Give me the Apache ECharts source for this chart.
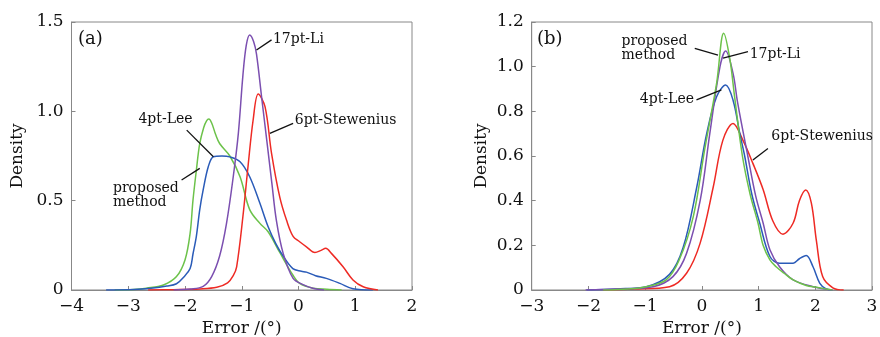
<!DOCTYPE html>
<html><head><meta charset="utf-8">
<script src="https://cdn.jsdelivr.net/npm/echarts@6/dist/echarts.min.js"></script>
<style>html,body{margin:0;padding:0;background:#fff}#c{width:880px;height:337px}</style>
</head><body><div id="c"></div>
<script>
// ---- Panel (a) data: [error, density]
const aProposed = [[-3.24,0],[-2.9,0.003],[-2.68,0.01],[-2.38,0.028],[-2.15,0.075],[-2.0,0.168],[-1.91,0.317],[-1.86,0.50],[-1.80,0.67],[-1.74,0.82],[-1.67,0.91],[-1.62,0.947],[-1.58,0.957],[-1.53,0.935],[-1.46,0.87],[-1.39,0.82],[-1.21,0.75],[-1.03,0.634],[-0.86,0.45],[-0.68,0.373],[-0.535,0.326],[-0.33,0.21],[-0.10,0.084],[0.02,0.037],[0.26,0.01],[0.5,0.004],[0.76,0]];
const aLee = [[-3.39,0],[-2.9,0.003],[-2.6,0.01],[-2.32,0.022],[-2.15,0.035],[-2.03,0.07],[-1.91,0.12],[-1.86,0.2],[-1.80,0.3],[-1.74,0.45],[-1.68,0.56],[-1.59,0.69],[-1.50,0.746],[-1.35,0.75],[-1.21,0.745],[-1.03,0.718],[-0.86,0.634],[-0.68,0.485],[-0.535,0.354],[-0.40,0.26],[-0.27,0.19],[-0.1,0.12],[0.05,0.105],[0.14,0.10],[0.3,0.08],[0.49,0.065],[0.73,0.037],[0.96,0.007],[1.31,0]];
const aLi = [[-2.2,0],[-1.9,0.005],[-1.68,0.02],[-1.53,0.075],[-1.39,0.19],[-1.27,0.37],[-1.15,0.634],[-1.06,0.877],[-0.98,1.2],[-0.92,1.37],[-0.86,1.427],[-0.79,1.39],[-0.74,1.32],[-0.65,1.08],[-0.56,0.84],[-0.47,0.6],[-0.39,0.39],[-0.27,0.205],[-0.095,0.065],[0.08,0.03],[0.25,0.01],[0.45,0]];
const aStew = [[-2.65,0],[-2.2,0.002],[-1.74,0.006],[-1.44,0.015],[-1.25,0.04],[-1.15,0.08],[-1.09,0.13],[-0.98,0.41],[-0.89,0.69],[-0.80,0.95],[-0.71,1.097],[-0.59,1.026],[-0.475,0.765],[-0.33,0.52],[-0.21,0.39],[-0.095,0.30],[0.02,0.27],[0.14,0.242],[0.29,0.21],[0.40,0.222],[0.48,0.233],[0.58,0.205],[0.785,0.13],[0.96,0.056],[1.14,0.018],[1.4,0]];
// ---- Panel (b) data
const bProposed = [[-1.74,0],[-1.3,0.005],[-0.98,0.015],[-0.63,0.045],[-0.40,0.134],[-0.15,0.33],[0.05,0.63],[0.26,0.925],[0.385,1.15],[0.49,1.04],[0.58,0.86],[0.715,0.6],[0.85,0.43],[0.99,0.30],[1.08,0.2],[1.2,0.135],[1.31,0.104],[1.45,0.075],[1.61,0.045],[1.84,0.02],[2.02,0.012],[2.3,0]];
const bLee = [[-2.03,0],[-1.5,0.005],[-0.98,0.015],[-0.57,0.07],[-0.33,0.19],[-0.09,0.46],[0.085,0.70],[0.26,0.865],[0.42,0.918],[0.55,0.85],[0.67,0.70],[0.755,0.6],[0.88,0.43],[1.02,0.30],[1.20,0.15],[1.37,0.12],[1.61,0.12],[1.72,0.14],[1.84,0.154],[1.96,0.104],[2.08,0.03],[2.19,0.005],[2.3,0]];
const bLi = [[-2.05,0],[-1.5,0.004],[-0.86,0.015],[-0.51,0.06],[-0.27,0.164],[-0.03,0.40],[0.14,0.70],[0.32,1.0],[0.42,1.07],[0.55,0.97],[0.63,0.84],[0.81,0.60],[0.95,0.42],[1.08,0.30],[1.2,0.18],[1.37,0.104],[1.61,0.045],[1.96,0.015],[2.3,0]];
const bStew = [[-1.74,0],[-1.2,0.004],[-0.57,0.015],[-0.27,0.075],[-0.03,0.21],[0.20,0.46],[0.37,0.67],[0.55,0.746],[0.725,0.67],[0.90,0.567],[1.08,0.45],[1.25,0.31],[1.43,0.25],[1.61,0.30],[1.72,0.40],[1.83,0.448],[1.93,0.39],[2.02,0.22],[2.13,0.06],[2.31,0.01],[2.5,0]];

// ---- Annotations: [text, textX, textY, lineX1, lineY1, lineX2, lineY2]
const aNotes = [
  ['17pt-Li', -0.45, 1.405, -0.74, 1.343, -0.475, 1.40],
  ['6pt-Stewenius', -0.065, 0.951, -0.505, 0.877, -0.095, 0.933],
  ['4pt-Lee', -2.82, 0.957, -1.97, 0.895, -1.50, 0.746],
  ['proposed\nmethod', -3.27, 0.532, -2.06, 0.616, -1.74, 0.681]
];
const bNotes = [
  ['proposed\nmethod', -1.415, 1.083, -0.125, 1.082, 0.285, 1.052],
  ['17pt-Li', 0.843, 1.057, 0.373, 1.038, 0.813, 1.067],
  ['4pt-Lee', -1.093, 0.855, -0.095, 0.851, 0.345, 0.896],
  ['6pt-Stewenius', 1.225, 0.687, 0.90, 0.582, 1.165, 0.634]
];
const panelTags = [['(a)', -3.886, 1.405], ['(b)', -2.907, 1.124]];

const FONT = 'DejaVu Serif';
const COLORS = {proposed:'#6cc24a', lee:'#2a5bb8', li:'#7b4fb0', stew:'#ee2a24'};
const fmt = v => (v < 0 ? '\u2212' + Math.abs(v) : String(v));

function xAx(gi, min, max) {
  return {type:'value', gridIndex:gi, min:min, max:max, interval:1,
    name:'Error /(°)', nameLocation:'middle', nameGap:28,
    nameTextStyle:{fontFamily:FONT, fontSize:17, color:'#111'},
    axisLine:{show:true, onZero:false, lineStyle:{color:'#888', width:1}},
    axisTick:{show:true, inside:true, length:4, lineStyle:{color:'#888'}},
    axisLabel:{fontFamily:FONT, fontSize:17, color:'#111', margin:8, formatter:fmt},
    splitLine:{show:false}};
}
function yAx(gi, max, interval, gap) {
  return {type:'value', gridIndex:gi, min:0, max:max, interval:interval,
    name:'Density', nameLocation:'middle', nameGap:gap,
    nameTextStyle:{fontFamily:FONT, fontSize:17, color:'#111'},
    axisLine:{show:true, onZero:false, lineStyle:{color:'#888', width:1}},
    axisTick:{show:true, inside:true, length:4, lineStyle:{color:'#888'}},
    axisLabel:{fontFamily:FONT, fontSize:17, color:'#111', margin:8,
      formatter: v => v === 0 ? '0' : v.toFixed(1)},
    splitLine:{show:false}};
}
function ser(gi, data, color) {
  return {type:'line', xAxisIndex:gi, yAxisIndex:gi, data:data, smooth:0.35,
    showSymbol:false, symbol:'none', lineStyle:{color:color, width:1.5}, z:3};
}

const chart = echarts.init(document.getElementById('c'), null, {renderer:'canvas'});
chart.setOption({
  animation:false,
  backgroundColor:'#fff',
  grid:[
    {left:71.5, top:22, width:340.5, height:268, show:true, borderColor:'#888', borderWidth:1, containLabel:false, outerBoundsMode:'none'},
    {left:531.7, top:22, width:340.3, height:268, show:true, borderColor:'#888', borderWidth:1, containLabel:false, outerBoundsMode:'none'}
  ],
  xAxis:[xAx(0,-4,2), xAx(1,-3,3)],
  yAxis:[yAx(0,1.5,0.5,45), yAx(1,1.2,0.2,42)],
  series:[
    ser(0,aProposed,COLORS.proposed), ser(0,aLee,COLORS.lee), ser(0,aStew,COLORS.stew), ser(0,aLi,COLORS.li),
    ser(1,bStew,COLORS.stew), ser(1,bLee,COLORS.lee), ser(1,bLi,COLORS.li), ser(1,bProposed,COLORS.proposed)
  ]
});

const graphics = [];
function addNotes(gi, notes) {
  notes.forEach(n => {
    const t = chart.convertToPixel({gridIndex:gi}, [n[1], n[2]]);
    const p1 = chart.convertToPixel({gridIndex:gi}, [n[3], n[4]]);
    const p2 = chart.convertToPixel({gridIndex:gi}, [n[5], n[6]]);
    graphics.push({type:'line', shape:{x1:p1[0], y1:p1[1], x2:p2[0], y2:p2[1]},
      style:{stroke:'#111', lineWidth:1.3}, z:10});
    graphics.push({type:'text', x:t[0], y:t[1], z:10,
      style:{text:n[0], fontFamily:FONT, fontSize:14, fill:'#111',
        textAlign:'left', textVerticalAlign:'middle', lineHeight:14}});
  });
}
addNotes(0, aNotes);
addNotes(1, bNotes);
panelTags.forEach((tg, i) => {
  const p = chart.convertToPixel({gridIndex:i}, [tg[1], tg[2]]);
  graphics.push({type:'text', x:p[0], y:p[1], z:10,
    style:{text:tg[0], fontFamily:FONT, fontSize:18, fill:'#111', textAlign:'left', textVerticalAlign:'middle'}});
});
chart.setOption({graphic:graphics});
</script>
</body></html>
